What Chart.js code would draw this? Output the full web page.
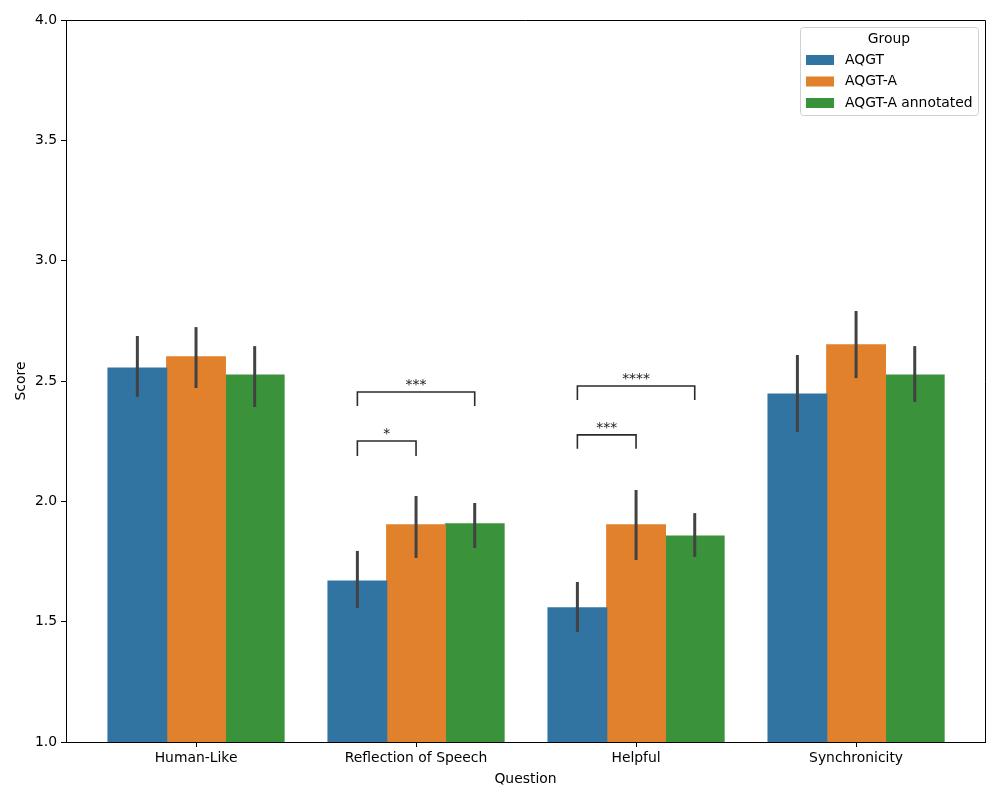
<!DOCTYPE html>
<html lang="en">
<head>
    <meta charset="UTF-8">
    <title>Score by Question</title>
    <script src="https://cdn.jsdelivr.net/npm/chart.js@4/dist/chart.umd.min.js"></script>
    <style>
        body { margin: 0; background: #fff; }
        #wrap { width: 1000px; height: 800px; }
    </style>
</head>
<body>
<div id="wrap"><canvas id="myChart" width="1000" height="800"></canvas></div>
<script>
    var questions = ['Human-Like', 'Reflection of Speech', 'Helpful', 'Synchronicity'];
    var groups = ['AQGT', 'AQGT-A', 'AQGT-A annotated'];
    var colors = ['#3274a1', '#e1812c', '#3a923a'];

    var aqgt = [2.554, 1.669, 1.557, 2.446];
    var aqgtA = [2.600, 1.902, 1.902, 2.650];
    var aqgtAnn = [2.525, 1.906, 1.856, 2.525];

    // confidence intervals [low, high]
    var aqgtCi = [[2.434, 2.687], [1.557, 1.794], [1.457, 1.665], [2.288, 2.608]];
    var aqgtACi = [[2.471, 2.724], [1.765, 2.022], [1.756, 2.047], [2.512, 2.791]];
    var aqgtAnnCi = [[2.392, 2.645], [1.806, 1.993], [1.769, 1.951], [2.413, 2.645]];

    var yTicks = [1.0, 1.5, 2.0, 2.5, 3.0, 3.5, 4.0];

    // significance brackets: question index, from group, to group, level, leg bottom, label
    var brackets = [
        {q: 1, a: 0, b: 1, y: 2.251, low: 2.188, text: '*'},
        {q: 1, a: 0, b: 2, y: 2.454, low: 2.396, text: '***'},
        {q: 2, a: 0, b: 1, y: 2.276, low: 2.218, text: '***'},
        {q: 2, a: 0, b: 2, y: 2.479, low: 2.421, text: '****'}
    ];

    var font = 'DejaVu Sans';
    var fs = 13.9;
    var allCi = [aqgtCi, aqgtACi, aqgtAnnCi];

    function points(vals) {
        return vals.map(function(v, i) { return {x: i, y: v}; });
    }

    var extras = {
        id: 'extras',
        afterDatasetsDraw: function(chart) {
            var ctx = chart.ctx;
            var ys = chart.scales.y;
            var area = chart.chartArea;

            // error bars
            ctx.save();
            ctx.strokeStyle = '#424242';
            ctx.lineWidth = 3;
            for (var d = 0; d < 3; d++) {
                var meta = chart.getDatasetMeta(d);
                meta.data.forEach(function(bar, i) {
                    var ci = allCi[d][i];
                    ctx.beginPath();
                    ctx.moveTo(bar.x, ys.getPixelForValue(ci[0]));
                    ctx.lineTo(bar.x, ys.getPixelForValue(ci[1]));
                    ctx.stroke();
                });
            }
            ctx.restore();

            // brackets
            ctx.save();
            ctx.strokeStyle = '#2b2b2b';
            ctx.lineWidth = 1.6;
            ctx.fillStyle = '#222';
            ctx.font = fs + 'px ' + font;
            ctx.textAlign = 'center';
            ctx.textBaseline = 'bottom';
            brackets.forEach(function(br) {
                var x1 = chart.getDatasetMeta(br.a).data[br.q].x;
                var x2 = chart.getDatasetMeta(br.b).data[br.q].x;
                var yt = ys.getPixelForValue(br.y);
                var yl = ys.getPixelForValue(br.low);
                ctx.beginPath();
                ctx.moveTo(x1, yl);
                ctx.lineTo(x1, yt);
                ctx.lineTo(x2, yt);
                ctx.lineTo(x2, yl);
                ctx.stroke();
                ctx.fillText(br.text, (x1 + x2) / 2, yt);
            });
            ctx.restore();

            // top and right spines
            ctx.save();
            ctx.strokeStyle = '#000';
            ctx.lineWidth = 1;
            ctx.beginPath();
            ctx.moveTo(area.left, area.top + 0.5);
            ctx.lineTo(area.right + 0.5, area.top + 0.5);
            ctx.lineTo(area.right + 0.5, area.bottom);
            ctx.stroke();
            ctx.restore();

            // legend
            ctx.save();
            var lx = 800, ly = 27, lw = 178, lh = 88;
            ctx.fillStyle = 'rgba(255,255,255,0.8)';
            ctx.strokeStyle = '#d0d0d0';
            ctx.lineWidth = 1;
            ctx.beginPath();
            ctx.roundRect(lx + 0.5, ly + 0.5, lw, lh, 3);
            ctx.fill();
            ctx.stroke();
            ctx.fillStyle = '#000';
            ctx.font = fs + 'px ' + font;
            ctx.textBaseline = 'middle';
            ctx.textAlign = 'center';
            ctx.fillText('Group', lx + lw / 2, 39);
            ctx.textAlign = 'left';
            groups.forEach(function(g, i) {
                var yy = 60 + i * 21.5;
                ctx.fillStyle = colors[i];
                ctx.fillRect(806, yy - 5, 28, 10);
                ctx.fillStyle = '#000';
                ctx.fillText(g, 845, yy);
            });
            ctx.restore();
        }
    };

    var ctx = document.querySelector('#myChart').getContext('2d');
    new Chart(ctx, {
        type: 'bar',
        data: {
            datasets: [
                {label: groups[0], data: points(aqgt), backgroundColor: colors[0]},
                {label: groups[1], data: points(aqgtA), backgroundColor: colors[1]},
                {label: groups[2], data: points(aqgtAnn), backgroundColor: colors[2]}
            ]
        },
        options: {
            responsive: false,
            animation: false,
            datasets: {
                bar: {categoryPercentage: 0.8, barPercentage: 1.0, borderWidth: 0, inflateAmount: 0.6}
            },
            layout: {padding: {top: 20, right: 15, bottom: 0, left: 0}},
            plugins: {
                legend: {display: false},
                tooltip: {enabled: false}
            },
            scales: {
                x: {
                    type: 'linear',
                    min: -0.591,
                    max: 3.586,
                    offset: false,
                    afterFit: function(axis) { axis.height = 58; },
                    afterBuildTicks: function(axis) {
                        axis.ticks = questions.map(function(q, i) { return {value: i}; });
                    },
                    grid: {offset: false, drawOnChartArea: false, drawTicks: true, tickLength: 5, color: '#000'},
                    border: {display: true, color: '#000', width: 1},
                    ticks: {
                        color: '#000',
                        font: {family: font, size: fs},
                        padding: 3,
                        maxRotation: 0,
                        callback: function(v) { return questions[v]; }
                    },
                    title: {display: true, text: 'Question', color: '#000', font: {family: font, size: fs}, padding: {top: 0, bottom: 12}}
                },
                y: {
                    min: 1.0,
                    max: 4.0,
                    afterFit: function(axis) { axis.width = 66; },
                    afterBuildTicks: function(axis) {
                        axis.ticks = yTicks.map(function(v) { return {value: v}; });
                    },
                    grid: {drawOnChartArea: false, drawTicks: true, tickLength: 5, color: '#000'},
                    border: {display: true, color: '#000', width: 1},
                    ticks: {
                        color: '#000',
                        font: {family: font, size: fs},
                        padding: 4,
                        callback: function(v) { return Number(v).toFixed(1); }
                    },
                    title: {display: true, text: 'Score', color: '#000', font: {family: font, size: fs}, padding: {top: 13, bottom: 0}}
                }
            }
        },
        plugins: [extras]
    });
</script>
</body>
</html>
